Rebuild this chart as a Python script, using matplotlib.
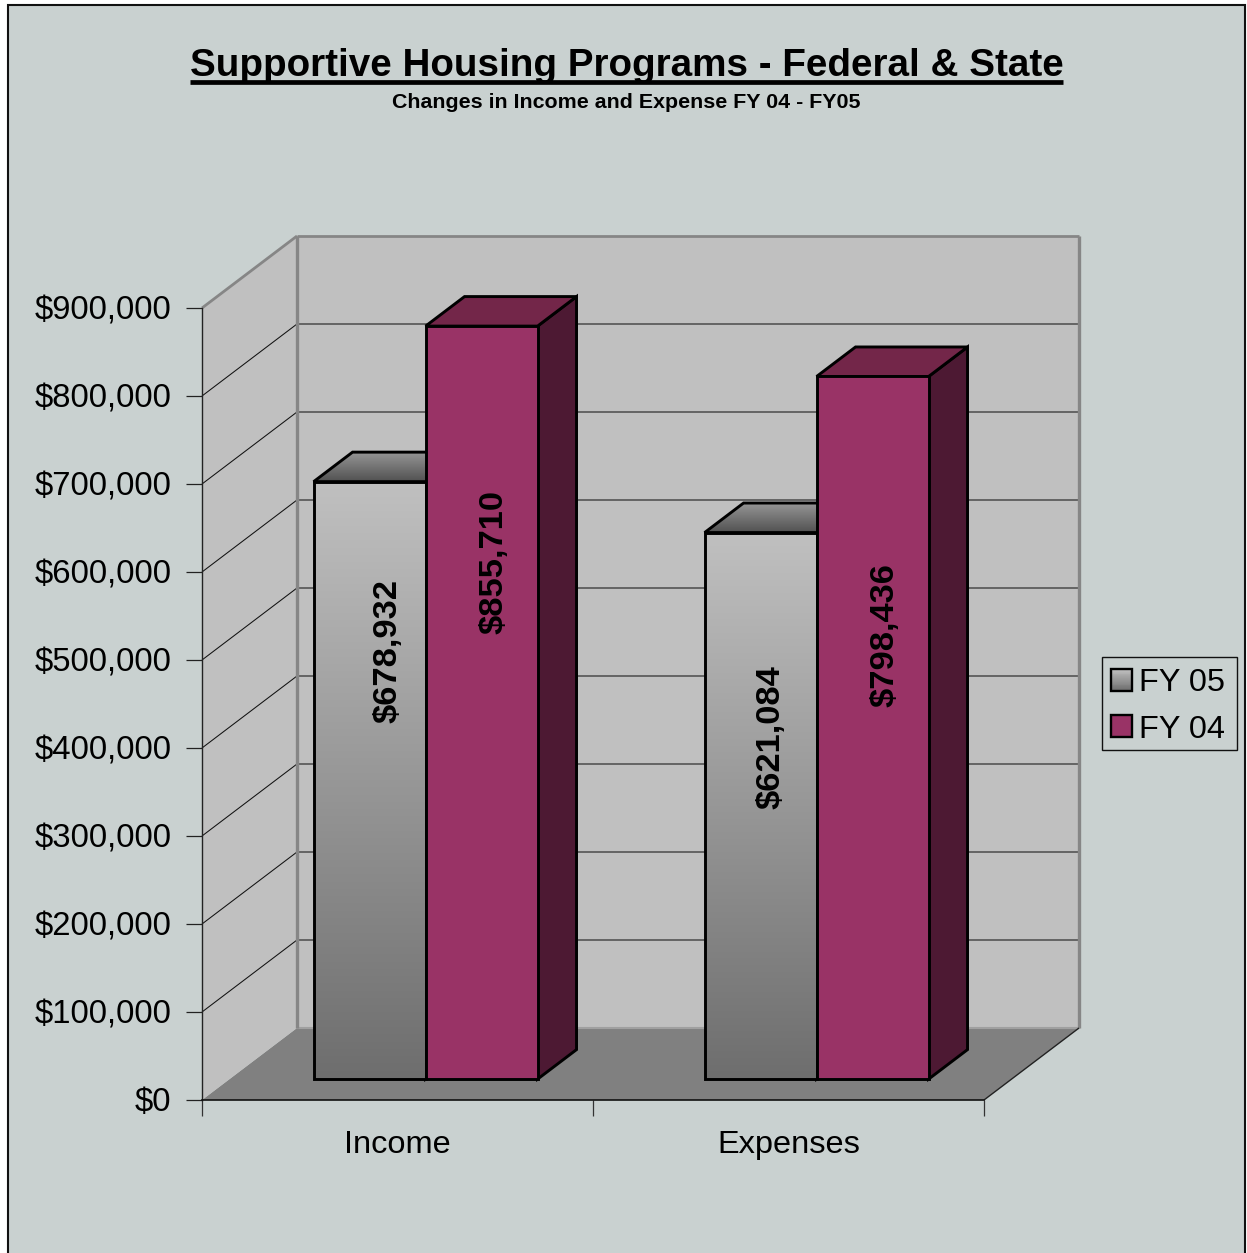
import numpy as np
import matplotlib
matplotlib.use("Agg")
import matplotlib.pyplot as plt
from matplotlib.patches import Polygon, Rectangle, Patch
from matplotlib.lines import Line2D
from matplotlib.legend_handler import HandlerBase
from matplotlib.colors import LinearSegmentedColormap
from matplotlib.transforms import ScaledTranslation

# Chart data
categories = ["Income", "Expenses"]
series_names = ["FY 05", "FY 04"]
fy05_values = [678932, 621084]
fy04_values = [855710, 798436]
y_ticks = [0, 100000, 200000, 300000, 400000, 500000, 600000, 700000, 800000, 900000]

# Placement of each rotated value label: fraction of bar height, fraction of bar width
fy05_label_pos = [0.716, 0.626]
fy04_label_pos = [0.687, 0.632]
fy05_label_across = [0.66, 0.59]
fy04_label_across = [0.615, 0.615]

# Palette
PANEL = "#C9D1D0"
WALL = "#C0C0C0"
FLOOR = "#808080"
EDGE = "#868686"
GRID = "#555555"
PLUM = "#993366"
PLUM_TOP = "#732649"
PLUM_SIDE = "#4D1933"

plt.rcParams["font.family"] = ["Liberation Sans", "DejaVu Sans"]

W, H = 1247, 1253
fig = plt.figure(figsize=(W / 100, H / 100), dpi=100, facecolor="white")
fig.add_artist(Rectangle((8.0 / W, -0.02), 1236.5 / W, 1 - 4.5 / H + 0.02,
                         transform=fig.transFigure, facecolor=PANEL,
                         edgecolor="#111111", linewidth=1.5, zorder=-1))

ax = fig.add_axes([202 / W, 1 - 1100 / H, 782 / W, 792 / H])
ax.patch.set_visible(False)
ax.set_xlim(0, 2)
ax.set_ylim(0, 900000)

# Oblique projection: one unit of depth shifts a point right and up
DEPTH_X = 95 / 391
DEPTH_Y = 72 / 792 * 900000


def project(x, v, d=0.0):
    return (x + d * DEPTH_X, v + d * DEPTH_Y)


def face(points, **kw):
    kw.setdefault("linewidth", 0)
    p = Polygon(points, closed=True, clip_on=False, **kw)
    ax.add_patch(p)
    return p


VMAX = y_ticks[-1]
XMAX = len(categories)

# Floor and walls
face([project(0, 0), project(0, 0, 1), project(XMAX, 0, 1), project(XMAX, 0)],
     facecolor=FLOOR, zorder=1)
face([project(0, 0), project(0, VMAX), project(0, VMAX, 1), project(0, 0, 1)],
     facecolor=WALL, zorder=1)
face([project(0, 0, 1), project(0, VMAX, 1), project(XMAX, VMAX, 1), project(XMAX, 0, 1)],
     facecolor=WALL, zorder=1)


def segment(a, b, color, lw, z=2):
    ax.add_line(Line2D([a[0], b[0]], [a[1], b[1]], color=color, linewidth=lw,
                       clip_on=False, zorder=z, solid_capstyle="butt"))


# Gridlines on the side and back walls
for v in y_ticks[1:-1]:
    segment(project(0, v), project(0, v, 1), "#111111", 0.75)
    segment(project(0, v, 1), project(XMAX, v, 1), GRID, 1.2)

segment(project(0, 0, 1), project(XMAX, 0, 1), "#A0A0A0", 1.5)
segment(project(0, VMAX), project(0, VMAX, 1), EDGE, 2)
segment(project(0, VMAX, 1), project(XMAX, VMAX, 1), EDGE, 2)
segment(project(0, 0, 1), project(0, VMAX, 1), EDGE, 2.4)
segment(project(XMAX, 0, 1), project(XMAX, VMAX, 1), EDGE, 2.4)
segment(project(XMAX, 0), project(XMAX, 0, 1), "#222222", 1)

# Bars
BAR_START = 0.215
BAR_WIDTH = 0.2864
DEPTH_FRONT = 0.29
DEPTH_BACK = 0.70
BAR_LW = 2.1

front_cmap = LinearSegmentedColormap.from_list("front", ["#6E6E6E", "#C0C0C0"])
top_cmap = LinearSegmentedColormap.from_list("top", ["#505050", "#969696"])
ramp = np.linspace(0, 1, 256).reshape(-1, 1)


def gradient_face(points, cmap, z):
    poly = face(points, facecolor="none", zorder=z)
    xs, ys = zip(*points)
    im = ax.imshow(ramp, cmap=cmap, origin="lower", aspect="auto",
                   extent=(min(xs), max(xs), min(ys), max(ys)), zorder=z,
                   interpolation="bilinear", vmin=0, vmax=1)
    im.set_clip_path(poly)
    face(points, facecolor="none", edgecolor="black", linewidth=BAR_LW,
         joinstyle="miter", zorder=z + 0.1)


def draw_bar(x0, value, z, front=None, top=None, side=None):
    x1 = x0 + BAR_WIDTH
    d0, d1 = DEPTH_FRONT, DEPTH_BACK
    front_pts = [project(x0, 0, d0), project(x0, value, d0),
                 project(x1, value, d0), project(x1, 0, d0)]
    top_pts = [project(x0, value, d0), project(x0, value, d1),
               project(x1, value, d1), project(x1, value, d0)]
    side_pts = [project(x1, 0, d0), project(x1, value, d0),
                project(x1, value, d1), project(x1, 0, d1)]
    style = dict(edgecolor="black", linewidth=BAR_LW, joinstyle="miter")
    face(side_pts, facecolor=side or "#555555", zorder=z, **style)
    if top:
        face(top_pts, facecolor=top, zorder=z, **style)
    else:
        gradient_face(top_pts, top_cmap, z)
    if front:
        face(front_pts, facecolor=front, zorder=z + 0.2, **style)
    else:
        gradient_face(front_pts, front_cmap, z + 0.2)


LABEL_SIZE = 24.8
for i in range(len(categories)):
    x05 = i + BAR_START
    x04 = x05 + BAR_WIDTH
    draw_bar(x05, fy05_values[i], 5)
    draw_bar(x04, fy04_values[i], 6, front=PLUM, top=PLUM_TOP, side=PLUM_SIDE)
    for xb, val, frac, across in ((x05, fy05_values[i], fy05_label_pos[i], fy05_label_across[i]),
                                  (x04, fy04_values[i], fy04_label_pos[i], fy04_label_across[i])):
        lx, ly = project(xb + BAR_WIDTH * across, val * frac, DEPTH_FRONT)
        ax.text(lx, ly, f"${val:,}", rotation=90, ha="center", va="center",
                fontsize=LABEL_SIZE, fontweight="bold", color="black", zorder=9,
                clip_on=False)

# Axes, ticks and their labels
for s in ("top", "right"):
    ax.spines[s].set_visible(False)
ax.spines["left"].set_color("#222222")
ax.spines["bottom"].set_color("#111111")
ax.spines["left"].set_linewidth(1)
ax.spines["bottom"].set_linewidth(1.2)
ax.spines["left"].set_zorder(3)
ax.spines["bottom"].set_zorder(3)

ax.set_yticks(y_ticks)
ax.set_yticklabels([f"${v:,}" for v in y_ticks])
ax.tick_params(axis="y", length=11.5, width=0.9, color="#222222", pad=10.5,
               labelsize=23.7)
nudge = ScaledTranslation(0, 1 / 100, fig.dpi_scale_trans)
for lab in ax.get_yticklabels():
    lab.set_transform(lab.get_transform() + nudge)
ax.set_xticks(range(XMAX + 1))
ax.set_xticklabels([])
ax.tick_params(axis="x", which="major", length=11.5, width=0.9, color="#333333")
ax.set_xticks(np.arange(XMAX) + 0.5, minor=True)
ax.set_xticklabels(categories, minor=True)
ax.tick_params(axis="x", which="minor", length=0, pad=21.5, labelsize=23.4)


# Legend with a gradient swatch for the grey series
class GradientHandler(HandlerBase):
    def create_artists(self, legend, orig, xd, yd, width, height, fontsize, trans):
        n = 24
        strips = []
        for k in range(n):
            strips.append(Rectangle((-xd, -yd + height * k / n), width, height / n + 0.3,
                                    facecolor=front_cmap(k / (n - 1)), linewidth=0,
                                    transform=trans))
        strips.append(Rectangle((-xd, -yd), width, height, facecolor="none",
                                edgecolor="black", linewidth=1.7, transform=trans))
        return strips


handles = [Patch(facecolor="#999999", edgecolor="black"),
           Patch(facecolor=PLUM, edgecolor="black", linewidth=1.7)]
fig.add_artist(Rectangle((1101.5 / W, 1 - 750 / H), 135.5 / W, 93 / H,
                         transform=fig.transFigure, facecolor=PANEL,
                         edgecolor="#111111", linewidth=1, zorder=-0.5))
ax.legend(handles, series_names, loc="center left",
          bbox_to_anchor=(1111 / W, 1 - 706.5 / H), bbox_transform=fig.transFigure,
          borderaxespad=0, fontsize=23.4, frameon=False,
          handlelength=0.66, handleheight=0.66, handletextpad=0.19,
          labelspacing=0.5, borderpad=0,
          handler_map={handles[0]: GradientHandler()})

# Title block
title = fig.text(626.5 / W, 1 - 66 / H, "Supportive Housing Programs - Federal & State",
                 ha="center", va="center", fontsize=27.8, fontweight="bold")
fig.text(626.5 / W, 1 - 103 / H, "Changes in Income and Expense FY 04 - FY05",
         ha="center", va="center", fontsize=15.4, fontweight="bold")
fig.canvas.draw()
bb = title.get_window_extent()
fig.add_artist(Line2D([bb.x0 / W, bb.x1 / W], [1 - 82 / H, 1 - 82 / H],
                      color="black", linewidth=3.4, solid_capstyle="butt",
                      transform=fig.transFigure))

fig.savefig("out.png", dpi=100, facecolor="white")
